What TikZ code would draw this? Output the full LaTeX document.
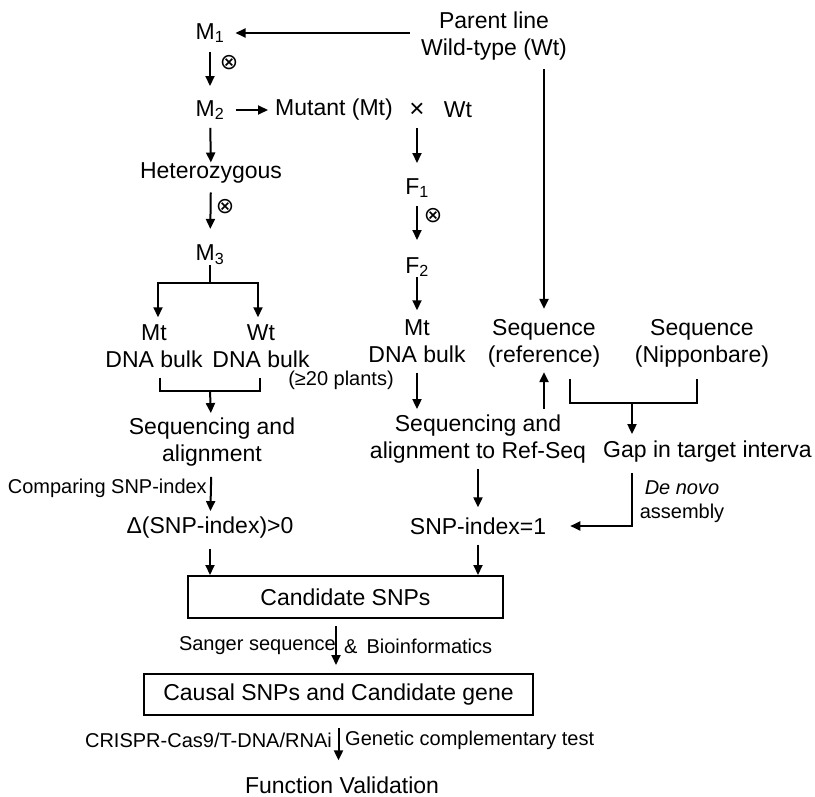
\documentclass[tikz,border=0pt]{standalone}
\usepackage{fontspec}
\setmainfont{Liberation Sans}
\newfontfamily\symfont{DejaVu Sans}
\usepackage{tikz}
\usetikzlibrary{arrows.meta,positioning,calc}

\begin{document}
\begin{tikzpicture}[
  x=1pt, y=-1pt,
  txt/.style={inner sep=0pt, font=\fontsize{23}{27}\selectfont, align=center},
  note/.style={inner sep=0pt, font=\fontsize{20}{24}\selectfont, align=center},
  selfed/.style={inner sep=0pt, font=\symfont\fontsize{22}{22}\selectfont},
  stagebox/.style={draw, line width=2pt, inner sep=0pt,
    font=\fontsize{23}{27}\selectfont},
  link/.style={line width=2pt},
  flow/.style={-{Triangle[length=10pt,width=9pt]}, line width=2pt},
]
\useasboundingbox (0,0) rectangle (815,797);

% === mutant line ===
\node[txt] (m1) at (210,33) {M\textsubscript{1}};
\node[selfed] (self1) at (229,63) {⊗};
\node[txt] (m2) at (210,110) {M\textsubscript{2}};
\node[txt] (het) at (211,173) {Heterozygous};
\node[selfed] (self2) at (225,207) {⊗};
\node[txt] (m3) at (210,255) {M\textsubscript{3}};
\node[txt] (mt-bulk) at (154,346) {Mt\\DNA bulk};
\node[txt] (wt-bulk) at (261,346) {Wt\\DNA bulk};
\node[txt] (bsa-seq) at (212,442.5) {Sequencing and\\alignment};
\node[note, anchor=east] (bsa-cmp) at (207,488) {Comparing SNP-index};
\node[txt] (bsa-delta) at (210,528) {Δ(SNP-index)>0};

% === cross with wild type ===
\node[txt] (mutant) at (334,110) {Mutant (Mt)};
\node[txt, font=\fontsize{26}{26}\selectfont] (cross) at (417,110) {×};
\node[txt] (cross-wt) at (458,110) {Wt};
\node[txt] (f1) at (417,188) {F\textsubscript{1}};
\node[selfed] (self3) at (433,216) {⊗};
\node[txt] (f2) at (417,267) {F\textsubscript{2}};
\node[txt] (f2-bulk) at (417,341) {Mt\\DNA bulk};
\node[note] (plants) at (341,380) {(≥20 plants)};
\node[txt] (map-seq) at (478,439.5) {Sequencing and\\alignment to Ref-Seq};
\node[txt] (snp-one) at (478,526) {SNP-index=1};

% === reference ===
\node[txt] (parent) at (494,36) {Parent line\\Wild-type (Wt)};
\node[txt] (ref-seq) at (544,343) {Sequence\\(reference)};
\node[txt] (nip-seq) at (702,343) {Sequence\\(Nipponbare)};
\node[txt, anchor=west] (gap) at (603,452) {Gap in target interva};
\node[note] (denovo) at (682,502) {\textit{De novo}\\assembly};

% === candidates ===
\node[stagebox, minimum width=315pt, minimum height=42pt] (cand) at (345.5,597) {Candidate SNPs};
\node[note, anchor=east] (sanger) at (336,646) {Sanger sequence};
\node[note, anchor=west] (bioinf) at (344,646) {\&\hspace{9pt}Bioinformatics};
\node[stagebox, minimum width=389pt, minimum height=41pt] (causal) at (338.5,694.5) {Causal SNPs and Candidate gene};
\node[note, anchor=east] (crispr) at (332,740) {CRISPR-Cas9/T-DNA/RNAi};
\node[note, anchor=west] (comp) at (345,740) {Genetic complementary test};
\node[txt] (func) at (342,785) {Function Validation};

% === arrows ===
\draw[flow, shorten <=11pt, shorten >=11pt] (parent.west |- m1) -- (m1.east);
\draw[flow, shorten <=9pt, shorten >=14pt] (m1) -- (m2);
\draw[flow, shorten <=11pt, shorten >=7pt] (m2) -- (mutant);
\draw[flow, shorten <=8pt] (m2) -- (het);
\draw[flow, shorten <=9pt, shorten >=16pt] (het) -- (m3);
\coordinate (m3-split) at (210,283);
\draw[link] (m3) -- (m3-split);
\draw[flow, shorten >=7pt] (m3-split) -| ([xshift=4pt]mt-bulk.north);
\draw[flow, shorten >=7pt] (m3-split) -| ([xshift=-3pt]wt-bulk.north);
\coordinate (bulk-join) at (210,391);
\draw[link, shorten <=10pt, shorten >=10pt] ([xshift=6pt]mt-bulk.south) |- (bulk-join) -| ([xshift=-1pt]wt-bulk.south);
\draw[flow, shorten >=5pt] (bulk-join) -- (bsa-seq);
\draw[flow, shorten <=10pt, shorten >=6pt] (bsa-seq) -- (bsa-delta);
\draw[flow, shorten <=10pt] (bsa-delta.south) -- (bsa-delta.south |- cand.north);

\draw[flow, shorten <=11pt, shorten >=15pt] (cross) -- (f1);
\draw[flow, shorten <=8pt, shorten >=17pt] (f1) -- (f2);
\draw[flow, shorten >=9pt] (f2) -- (f2-bulk);
\draw[flow, shorten <=10pt, shorten >=6pt] (f2-bulk) -- (f2-bulk |- map-seq.north);
\draw[flow, shorten <=6pt, shorten >=5pt] (ref-seq.south |- map-seq.north) -- (ref-seq.south);
\draw[flow, shorten <=5pt, shorten >=10pt] (map-seq) -- (snp-one);
\draw[flow, shorten <=10pt] (snp-one.south) -- (snp-one.south |- cand.north);

\draw[flow, shorten <=9pt, shorten >=10pt] (parent.south -| ref-seq) -- (ref-seq);
\coordinate (seq-join) at (632,403);
\draw[link, shorten <=12pt, shorten >=12pt] ([xshift=26pt]ref-seq.south) |- (seq-join) -| ([xshift=-5pt]nip-seq.south);
\draw[flow, shorten >=7pt] (seq-join) -- (seq-join |- gap.north);
\draw[flow, shorten <=10pt, shorten >=24pt] (seq-join |- gap.south) |- (snp-one.east);

\draw[flow, shorten <=7pt, shorten >=8pt] (sanger.east |- cand.south) -- (sanger.east |- causal.north);
\draw[flow, shorten <=12pt, shorten >=16pt] (causal) -- (causal.center |- func.north);

\end{tikzpicture}
\end{document}
